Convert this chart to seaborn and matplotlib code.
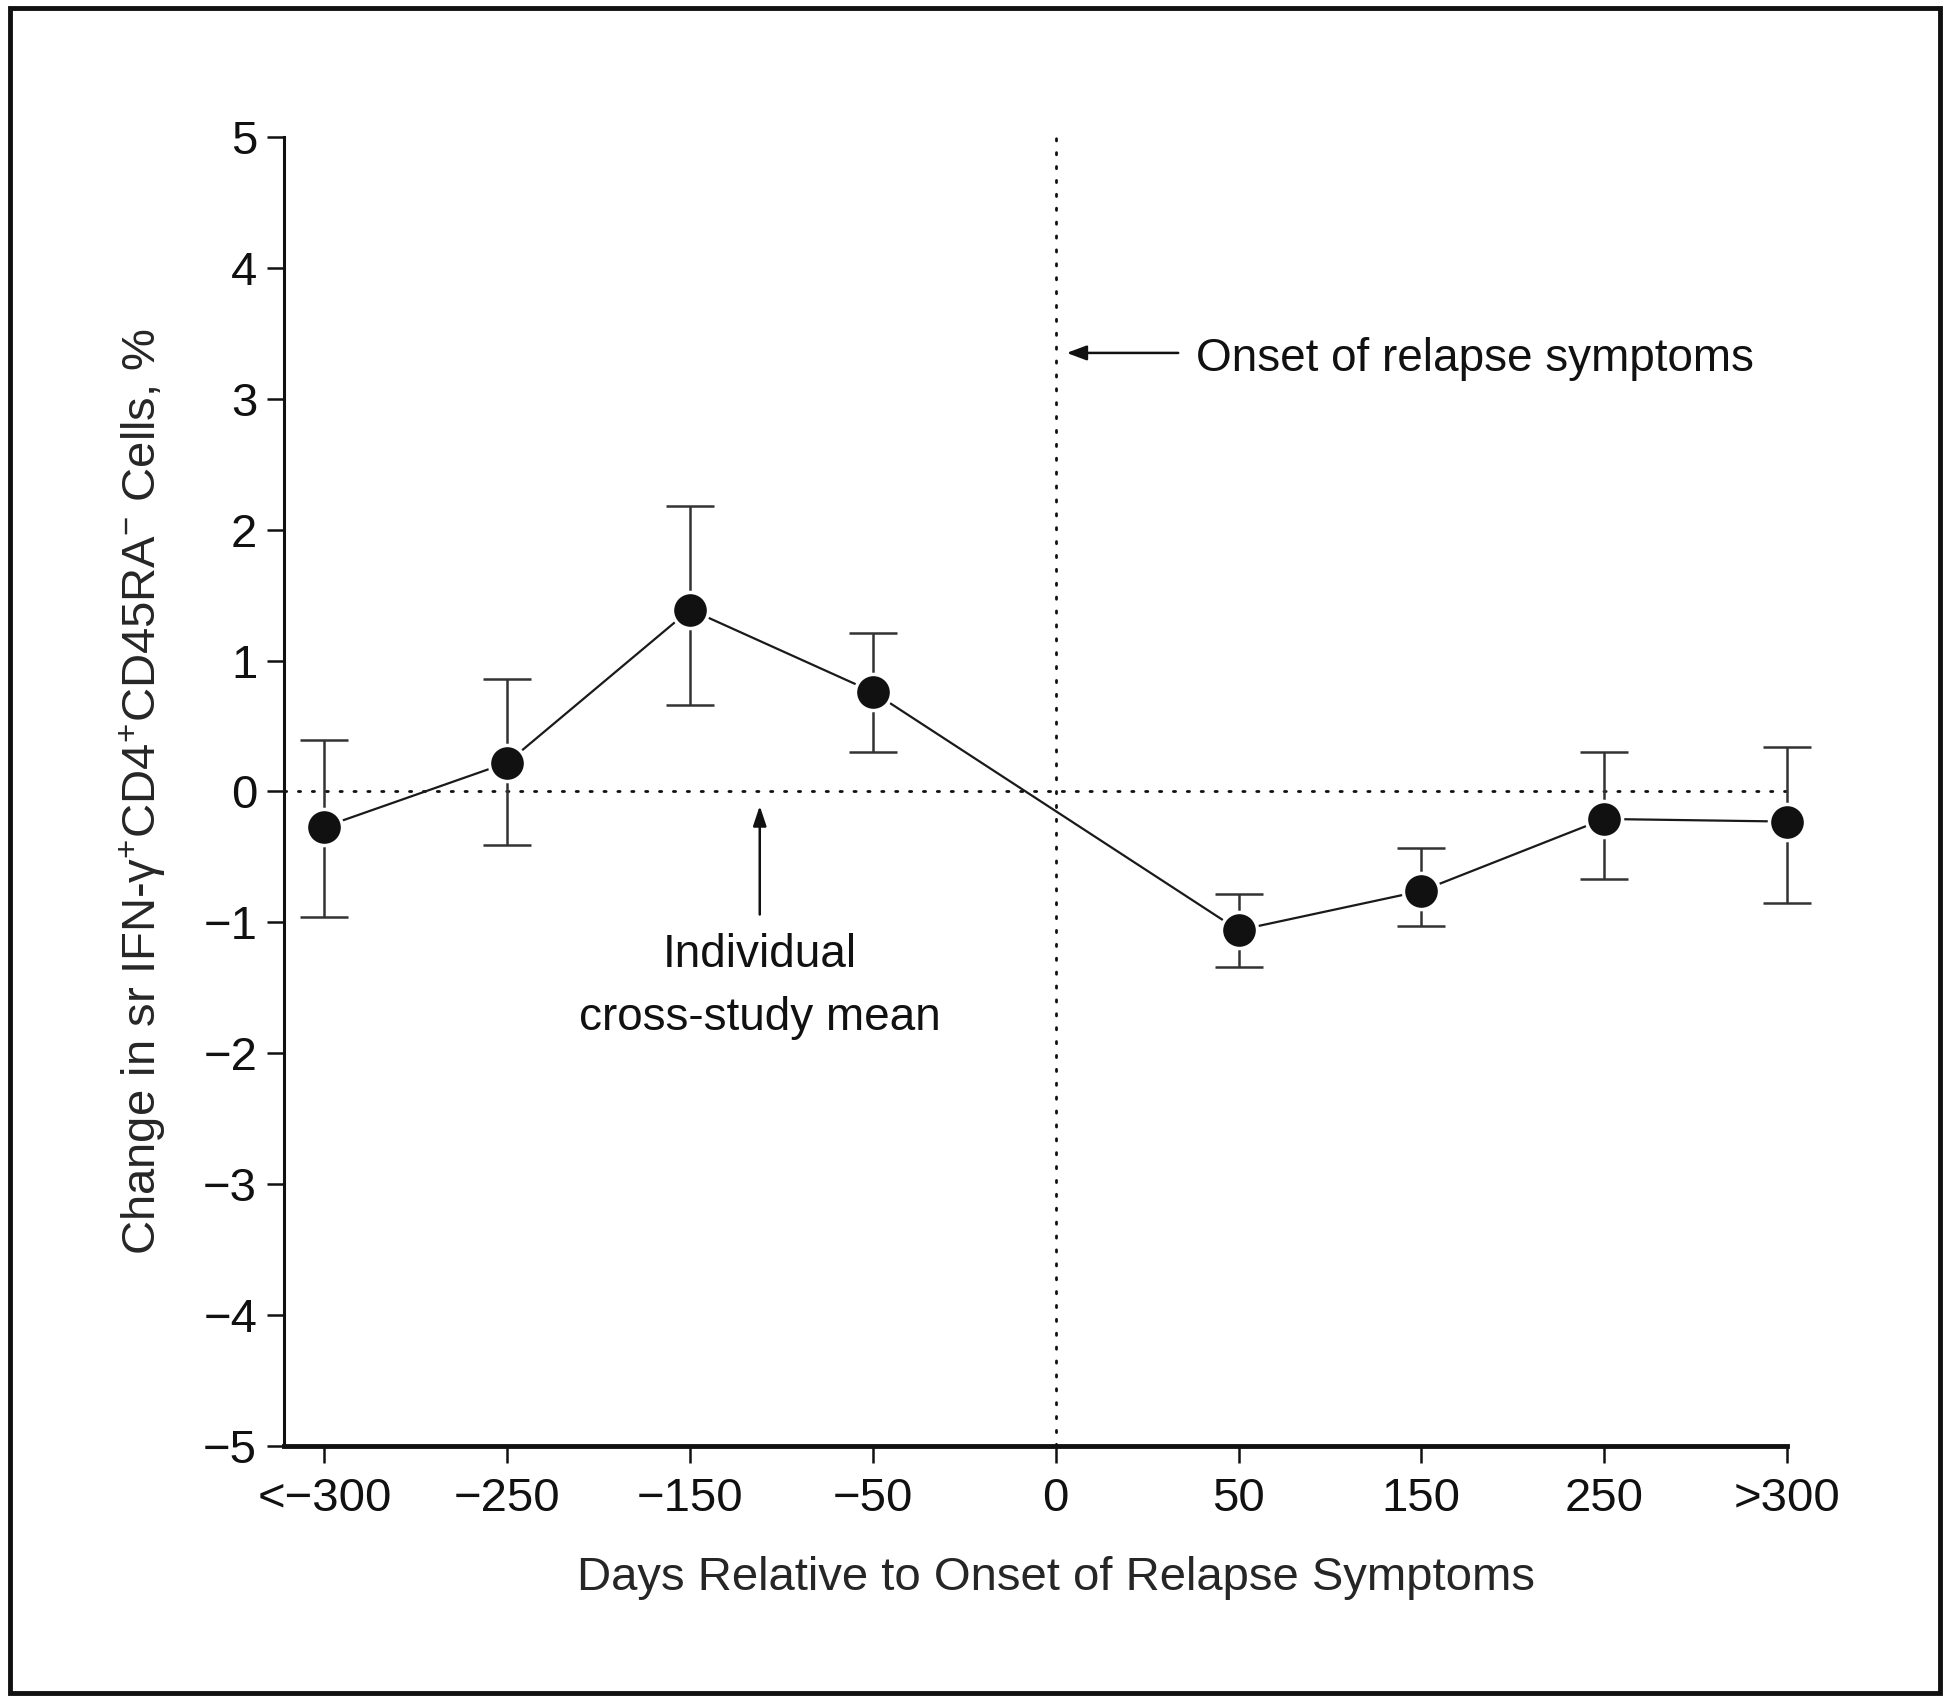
import matplotlib
matplotlib.use("Agg")
import matplotlib.pyplot as plt
import seaborn as sns
import pandas as pd
from matplotlib.patches import Rectangle

# ---- data ----
tick_labels = ["<\u2212300", "\u2212250", "\u2212150", "\u221250", "0", "50", "150", "250", ">300"]
point_positions = [0, 1, 2, 3, 5, 6, 7, 8]
means = [-0.27, 0.22, 1.39, 0.76, -1.06, -0.76, -0.21, -0.23]
upper = [0.39, 0.86, 2.18, 1.21, -0.78, -0.43, 0.30, 0.34]
lower = [-0.96, -0.41, 0.66, 0.30, -1.34, -1.03, -0.67, -0.85]
y_ticks = [-5, -4, -3, -2, -1, 0, 1, 2, 3, 4, 5]

df = pd.DataFrame({"pos": point_positions, "mean": means, "upper": upper, "lower": lower})

sns.set_style("ticks")
FONT = ["Liberation Sans", "DejaVu Sans"]
plt.rcParams["font.family"] = FONT
plt.rcParams["mathtext.fontset"] = "custom"
plt.rcParams["mathtext.rm"] = "Liberation Sans"
plt.rcParams["mathtext.it"] = "Liberation Sans"
plt.rcParams["axes.unicode_minus"] = True

FS = 34
FS_ANN = 33

fig = plt.figure(figsize=(19.5, 17.03), dpi=100)
ax = fig.add_axes([0.1454, 0.1509, 0.9164 - 0.1454, 0.9196 - 0.1509])

# reference lines
ax.axhline(0, color="#111111", lw=2.0, ls=(0, (0.8, 4.2)), dash_capstyle="round", zorder=1)
ax.axvline(4, color="#111111", lw=2.0, ls=(0, (0.8, 4.2)), dash_capstyle="round", zorder=1)

# error bars
eb = ax.errorbar(df["pos"], df["mean"],
                 yerr=[df["mean"] - df["lower"], df["upper"] - df["mean"]],
                 fmt="none", ecolor="#333333", elinewidth=1.8, capsize=17, capthick=1.8, zorder=2)
for child in eb.get_children():
    child.set_clip_on(False)

# line + markers
sns.lineplot(data=df, x="pos", y="mean", ax=ax, color="#1a1a1a", lw=1.6, marker="o",
             markersize=26, markerfacecolor="#111111", markeredgecolor="white",
             markeredgewidth=2.5, zorder=3, sort=False)
for ln in ax.lines:
    ln.set_clip_on(False)

ax.set_xlim(-0.224, 8)
ax.set_ylim(-5, 5)
ax.set_xticks(range(len(tick_labels)))
ax.set_xticklabels(tick_labels)
ax.set_yticks(y_ticks)
ax.set_yticklabels([str(v).replace("-", "\u2212") for v in y_ticks])

for s in ["top", "right"]:
    ax.spines[s].set_visible(False)
ax.spines["left"].set_linewidth(2.2)
ax.spines["bottom"].set_linewidth(3.5)
ax.spines["left"].set_color("#111111")
ax.spines["bottom"].set_color("#111111")
ax.tick_params(axis="both", direction="out", length=12, width=1.8, colors="#111111",
               labelsize=FS)
ax.tick_params(axis="x", pad=10)
ax.tick_params(axis="y", pad=7)

ax.set_xlabel("Days Relative to Onset of Relapse Symptoms", fontsize=FS)
ax.xaxis.set_label_coords(0.5137, -0.084)
ax.set_ylabel("Change in sr IFN-\u03b3$^{+}$CD4$^{+}$CD45RA$^{\u2212}$ Cells, %", fontsize=FS)
ax.yaxis.set_label_coords(-0.077, 0.5)

# annotations
ax.annotate("", xy=(4.06, 3.35), xytext=(4.67, 3.35),
            arrowprops=dict(arrowstyle="-|>,head_length=1.2,head_width=0.45", color="#111111",
                            lw=1.8, shrinkA=0, shrinkB=0))
ax.text(4.77, 3.21, "Onset of relapse symptoms", fontsize=FS_ANN, va="baseline", ha="left",
        color="#111111")
ax.annotate("", xy=(2.381, -0.11), xytext=(2.381, -0.94),
            arrowprops=dict(arrowstyle="-|>,head_length=1.2,head_width=0.4", color="#111111",
                            lw=1.8, shrinkA=0, shrinkB=0))
ax.text(2.381, -1.08, "Individual\ncross-study mean", fontsize=FS_ANN, va="top", ha="center",
        color="#111111", linespacing=1.55)

# figure frame
fig.patches.append(Rectangle((10 / 1950, 1 - 1693 / 1703), (1940 - 10) / 1950, (1693 - 8) / 1703,
                             transform=fig.transFigure, fill=False, edgecolor="#111111",
                             lw=3.5, zorder=10))

fig.savefig("out.png", dpi=100, facecolor="white")
